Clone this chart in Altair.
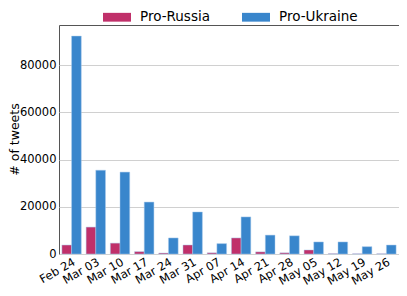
import altair as alt
import pandas as pd

weeks = ["Feb 24", "Mar 03", "Mar 10", "Mar 17", "Mar 24", "Mar 31", "Apr 07",
         "Apr 14", "Apr 21", "Apr 28", "May 05", "May 12", "May 19", "May 26"]
pro_russia = [3800, 11400, 4600, 1000, 400, 3800, 500, 6800, 900, 500, 1700, 150, 100, 100]
pro_ukraine = [92300, 35500, 34700, 22000, 6800, 17800, 4400, 15700, 8000, 7700, 5100, 5100, 3100, 3800]
groups = ["Pro-Russia", "Pro-Ukraine"]
colors = ["#c0306a", "#3986cc"]

rows = []
for w, r, u in zip(weeks, pro_russia, pro_ukraine):
    rows.append({"week": w, "group": groups[0], "tweets": r})
    rows.append({"week": w, "group": groups[1], "tweets": u})
df = pd.DataFrame(rows)

font = "DejaVu Sans"

chart = alt.Chart(df).mark_bar(strokeWidth=0.6, stroke="#a9cbec", strokeOpacity=0.8).encode(
    x=alt.X("week:N", sort=weeks,
            scale=alt.Scale(paddingInner=0.2, paddingOuter=0.12),
            axis=alt.Axis(title=None, labelAngle=-30, labelAlign="right", labelBaseline="top",
                          labelFontSize=11.5, labelFont=font, labelColor="black",
                          domain=False, ticks=False,
                          labelPadding=2, grid=False)),
    xOffset=alt.XOffset("group:N", sort=groups),
    y=alt.Y("tweets:Q",
            scale=alt.Scale(domain=[0, 97000], nice=False),
            axis=alt.Axis(title="# of tweets", titleFont=font, titleFontSize=12.5,
                          titleFontWeight="normal", titleColor="black",
                          titleAngle=270, titleBaseline="alphabetic", titleAlign="center",
                          titleX=-41, titleY=114,
                          values=[0, 20000, 40000, 60000, 80000], format="d",
                          labelFontSize=11.5, labelFont=font, labelColor="black",
                          domain=False, ticks=False, labelPadding=3,
                          gridColor="#d0d0d0", gridWidth=1)),
    color=alt.Color("group:N", sort=groups,
                    scale=alt.Scale(domain=groups, range=colors),
                    legend=alt.Legend(title=None, orient="none", direction="horizontal",
                                      legendX=50, legendY=-16,
                                      symbolType="M-1.75,-0.55h3.5v1.1h-3.5z", symbolSize=256,
                                      symbolStrokeWidth=0, labelFont=font, labelFontSize=13.5,
                                      labelColor="black", columnPadding=32, labelOffset=15)),
).properties(
    width=340, height=229,
    autosize=alt.AutoSizeParams(type="none"),
    padding={"left": 51, "top": 17, "right": 0, "bottom": 34},
).configure_view(
    stroke="#555", strokeWidth=1
)

chart.save("out.html", embed_options={"renderer": "svg", "actions": False})
